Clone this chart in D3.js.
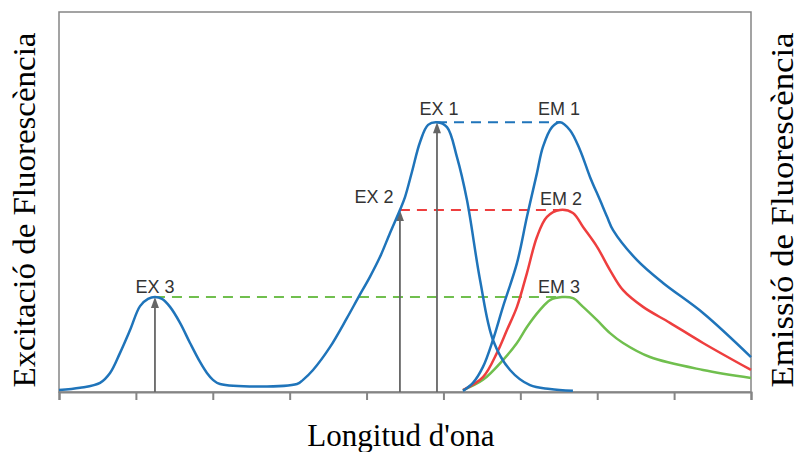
<!DOCTYPE html>
<html>
<head>
<meta charset="utf-8">
<script src="https://cdn.jsdelivr.net/npm/d3@7"></script>
<style>
  body { margin: 0; background: #fff; }
  .peak-label { font-family: "Liberation Sans", Arial, sans-serif; font-size: 18px; fill: #333; }
  .axis-title { font-family: "Liberation Serif", "Times New Roman", serif; font-size: 31px; fill: #000; }
</style>
</head>
<body>
<div class="container"></div>
<script>
// wavelength (nm) and relative intensity (%)
var exWl  = [300, 313.7, 326.7, 333.2, 339.7, 346.2, 352.7, 357.9, 362.4, 367, 372.2, 378.7, 385.2, 391.7, 396.2, 400.1, 404.7,
             454.8, 458.7, 465.2, 476.2, 487.3, 494.4, 502.2, 508.7, 515.2, 521.7, 525, 529.5, 534.8, 540, 545.8,
             552.3, 558.8, 565.3, 573.8, 582.2, 593.3, 606.3, 619.3, 634.2];
var exVal = [0.5, 1.1, 2.4, 5, 10.3, 16.3, 22.6, 24.5, 25, 24.5, 22.4, 18.2, 12.9, 7.9, 5, 3.2, 2.1,
             2.1, 3.2, 5.8, 11.8, 19.5, 24.7, 30.3, 35.5, 41.8, 47.9, 51.3, 57.9, 65.8, 70.3, 71,
             69.7, 61.8, 50.5, 29.5, 13.7, 5.8, 1.8, 0.8, 0.3];

var em1Wl  = [562.7, 569.2, 575.7, 582.2, 588.7, 597.8, 604.3, 610.8, 614.7, 620.6, 625.8, 632.3, 638.8, 645.3, 651.8, 656.4, 660.3, 675.9, 692.8, 718.8, 750];
var em1Val = [0.3, 2.4, 6.6, 13.7, 22.4, 33.9, 46.1, 57.6, 64.5, 69.7, 71, 68.9, 63.7, 56.6, 50.5, 46.1, 42.6, 34.7, 28.7, 20.8, 9.2];

var em2Wl  = [562.7, 575.7, 584.8, 591.3, 597.8, 604.3, 610.8, 617.3, 625.8, 634.2, 640.8, 649.9, 658.3, 666.8, 679.8, 697.3, 718.8, 750];
var em2Val = [0.5, 3.9, 10.3, 16.3, 22.4, 31.3, 40.8, 46.1, 47.9, 47.1, 43.4, 38.2, 32.1, 26.8, 22.4, 18.2, 12.9, 5.8];

var em3Wl  = [562.7, 575.7, 588.7, 597.8, 604.3, 612.8, 619.3, 627.1, 634.2, 640.8, 649.9, 658.3, 666.8, 684.3, 718.8, 750];
var em3Val = [0.5, 3.2, 8.4, 12.9, 17.1, 21.6, 24.2, 25, 24.7, 22.4, 18.9, 15.5, 12.9, 9.2, 5.8, 3.7];

// excitation peaks (arrows) and the matching emission peak
var exLabels = ['EX 1', 'EX 2', 'EX 3'];
var emLabels = ['EM 1', 'EM 2', 'EM 3'];
var exPeakWl = [545.8, 521.7, 362.4];
var emPeakWl = [625.8, 625.8, 627.1];
var peakLevel = [71, 47.9, 25];

var xTicks = [300, 350, 400, 450, 500, 550, 600, 650, 700, 750];

var colors = { blue: '#1f74ba', red: '#ee3e3e', green: '#70bf4e', grey: '#666', frame: '#858585' };
var lineColors = [colors.blue, colors.red, colors.green];

var width = 800, height = 452;
var margin = { left: 59, right: 49, top: 12, bottom: 60 };

var svg = d3.select('.container')
  .append('svg')
    .attr('width', width)
    .attr('height', height);

var x = d3.scaleLinear().domain([300, 750]).range([margin.left, width - margin.right]);
var y = d3.scaleLinear().domain([0, 100]).range([height - margin.bottom, margin.top]);

// frame
svg.append('rect')
    .attr('x', x(300))
    .attr('y', y(100))
    .attr('width', x(750) - x(300))
    .attr('height', y(0) - y(100))
    .attr('fill', 'none')
    .attr('stroke', colors.frame)
    .attr('stroke-width', 1.5);

var xAxis = svg.append('g')
    .attr('transform', 'translate(0,' + y(0) + ')')
    .call(d3.axisBottom(x).tickValues(xTicks).tickSize(8).tickFormat(''));
xAxis.select('.domain').attr('stroke', colors.frame).attr('stroke-width', 2);
xAxis.selectAll('.tick line').attr('stroke', colors.frame).attr('stroke-width', 2);

// dashed level lines
svg.append('g')
  .selectAll('line')
  .data(peakLevel)
  .enter().append('line')
    .attr('x1', function (d, i) { return x(exPeakWl[i]); })
    .attr('x2', function (d, i) { return x(emPeakWl[i]); })
    .attr('y1', function (d) { return y(d); })
    .attr('y2', function (d) { return y(d); })
    .attr('stroke', function (d, i) { return lineColors[i]; })
    .attr('stroke-width', 2)
    .attr('stroke-dasharray', '10,7');

// arrows up to each excitation peak
var arrows = svg.append('g').attr('fill', colors.grey).attr('stroke', colors.grey);
exPeakWl.forEach(function (wl, i) {
  var ax = x(wl), ay = y(peakLevel[i]);
  arrows.append('line')
      .attr('x1', ax).attr('x2', ax)
      .attr('y1', y(0)).attr('y2', ay + 8)
      .attr('stroke-width', 1.8);
  arrows.append('path')
      .attr('stroke', 'none')
      .attr('d', 'M' + ax + ',' + ay + 'L' + (ax - 4) + ',' + (ay + 11) + 'L' + (ax + 4) + ',' + (ay + 11) + 'Z');
});

// curves
var line = d3.line()
    .x(function (d) { return x(d[0]); })
    .y(function (d) { return y(d[1]); })
    .curve(d3.curveCatmullRom.alpha(0.5));

var series = [
  { wl: em3Wl, val: em3Val, color: colors.green },
  { wl: em2Wl, val: em2Val, color: colors.red },
  { wl: em1Wl, val: em1Val, color: colors.blue },
  { wl: exWl, val: exVal, color: colors.blue }
];

svg.append('g')
    .attr('fill', 'none')
    .attr('stroke-width', 2.5)
  .selectAll('path')
  .data(series)
  .enter().append('path')
    .attr('stroke', function (d) { return d.color; })
    .attr('d', function (d) { return line(d.wl.map(function (w, i) { return [w, d.val[i]]; })); });

// ----------
// Labels

var exOffset = [[2, -7], [-26, -7], [0, -4]];
var emOffset = [[-1, -7], [1, -5], [-3, -4]];

svg.selectAll('.ex-label')
  .data(exLabels)
  .enter().append('text')
    .attr('class', 'peak-label')
    .attr('text-anchor', 'middle')
    .attr('x', function (d, i) { return x(exPeakWl[i]) + exOffset[i][0]; })
    .attr('y', function (d, i) { return y(peakLevel[i]) + exOffset[i][1]; })
    .text(function (d) { return d; });

svg.selectAll('.em-label')
  .data(emLabels)
  .enter().append('text')
    .attr('class', 'peak-label')
    .attr('text-anchor', 'middle')
    .attr('x', function (d, i) { return x(emPeakWl[i]) + emOffset[i][0]; })
    .attr('y', function (d, i) { return y(peakLevel[i]) + emOffset[i][1]; })
    .text(function (d) { return d; });

svg.append('text')
    .attr('class', 'axis-title')
    .attr('transform', 'translate(35,210) rotate(-90)')
    .attr('text-anchor', 'middle')
    .attr('textLength', 355)
    .attr('lengthAdjust', 'spacingAndGlyphs')
    .text('Excitació de Fluorescència');

svg.append('text')
    .attr('class', 'axis-title')
    .attr('transform', 'translate(793,210) rotate(-90)')
    .attr('text-anchor', 'middle')
    .attr('textLength', 355)
    .attr('lengthAdjust', 'spacingAndGlyphs')
    .text('Emissió de Fluorescència');

svg.append('text')
    .attr('class', 'axis-title')
    .attr('x', 401)
    .attr('y', 446)
    .attr('text-anchor', 'middle')
    .text("Longitud d'ona");
</script>
</body>
</html>
